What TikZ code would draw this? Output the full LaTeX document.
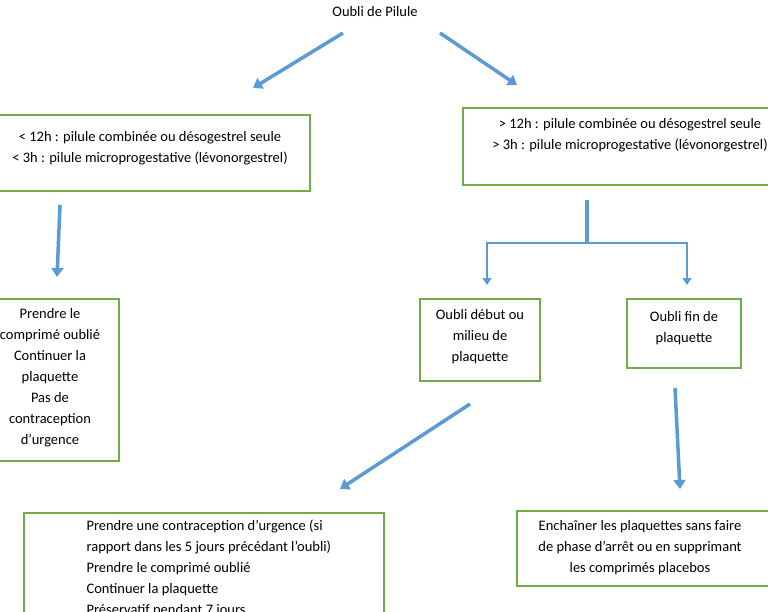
\documentclass[tikz,border=0pt]{standalone}
\usepackage{fontspec}
\setmainfont{Carlito}
\usetikzlibrary{arrows.meta}
\definecolor{gb}{HTML}{70AD47}\definecolor{bl}{HTML}{5B9BD5}
\begin{document}
\begin{tikzpicture}[x=1pt,y=-1pt,
  box/.style={draw=gb,line width=1.2pt},
  txt/.style={font=\fontsize{14.5}{21}\selectfont,align=center},
  arr/.style={draw=bl,line width=3.5pt,-{Triangle[length=9pt,width=12pt]}},
  thin/.style={draw=bl,line width=2.2pt},
  tarr/.style={draw=bl,line width=2.2pt,-{Triangle[length=7pt,width=9pt]}}]
\useasboundingbox (0,0) rectangle (768,611);
\clip (0,0) rectangle (768,611);
\node[txt] (t) at (375,12) {Oubli de Pilule};
\draw[box] (-5,115) rectangle (310,191);
\node[txt] (a) at (150,148) {< 12h : pilule combinée ou désogestrel seule\\< 3h : pilule microprogestative (lévonorgestrel)};
\draw[box] (463,108) rectangle (780,185);
\node[txt] (b) at (630,135) {> 12h : pilule combinée ou désogestrel seule\\> 3h : pilule microprogestative (lévonorgestrel)};
\draw[box] (-5,299) rectangle (119,461);
\node[txt] (c) at (50,378) {Prendre le\\comprimé oublié\\Continuer la\\plaquette\\Pas de\\contraception\\d’urgence};
\draw[box] (420,299) rectangle (540,381);
\node[txt] (d) at (480,337) {Oubli début ou\\milieu de\\plaquette};
\draw[box] (627,299) rectangle (741,368);
\node[txt] (e) at (684,328) {Oubli fin de\\plaquette};
\draw[box] (24,513) rectangle (384,630);
\node[txt,align=left,anchor=north west] (f) at (83,516) {Prendre une contraception d’urgence (si\\rapport dans les 5 jours précédant l’oubli)\\Prendre le comprimé oublié\\Continuer la plaquette\\Préservatif pendant 7 jours};
\draw[box] (517,511) rectangle (770,586);
\node[txt] (g) at (640,548) {Enchaîner les plaquettes sans faire\\de phase d’arrêt ou en supprimant\\les comprimés placebos};
\coordinate (t1) at (343,33); \coordinate (t1e) at (253,88);
\coordinate (t2) at (440,33); \coordinate (t2e) at (517,85);
\draw[arr] (t1) -- (t1e);
\draw[arr] (t2) -- (t2e);
\coordinate (a1) at (60,205); \coordinate (a1e) at (57,277);
\draw[arr] (a1) -- (a1e);
\coordinate (b1) at (587,200); \coordinate (b2) at (587,243);
\draw[draw=bl,line width=3.5pt] (b1) -- (b2);
\draw[thin] (486,243) -- (688,243);
\draw[tarr] (487,243) -- (487,285);
\draw[tarr] (687,243) -- (687,285);
\coordinate (d1) at (470,404); \coordinate (d1e) at (340,489);
\draw[arr] (d1) -- (d1e);
\coordinate (e1) at (675,388); \coordinate (e1e) at (680,489);
\draw[arr] (e1) -- (e1e);
\end{tikzpicture}
\end{document}
